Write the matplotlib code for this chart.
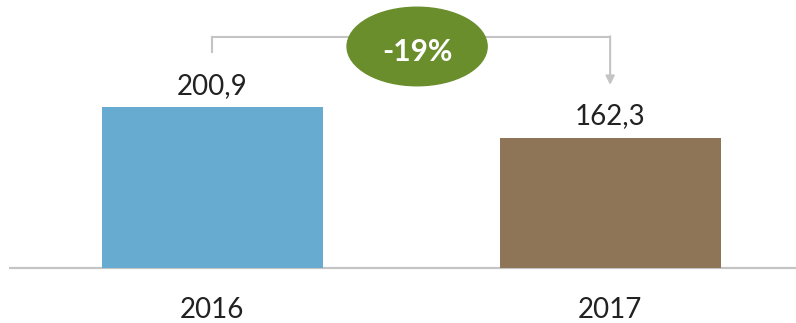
import matplotlib
matplotlib.use("Agg")
import matplotlib.pyplot as plt
from matplotlib.patches import Ellipse

years = ["2016", "2017"]
values = [200.9, 162.3]
value_labels = ["200,9", "162,3"]
change_label = "-19%"

bar_colors = ["#67abd0", "#8f7557"]
green = "#6a8e2c"
gray = "#c4c4c4"
text_color = "#222222"

plt.rcParams["font.family"] = ["Lato", "DejaVu Sans"]

fig = plt.figure(figsize=(7.96, 3.23), dpi=100)
ax = fig.add_axes([0, 0, 1, 1])
ax.set_xlim(-0.533, 1.467)
ax.set_ylim(-68, 335)
ax.axis("off")

x = list(range(len(years)))
ax.bar(x, values, width=0.555, color=bar_colors, zorder=2)

# baseline
ax.plot([-0.51, 1.467], [0, 0], color=gray, lw=1.6, zorder=1, solid_capstyle="butt")

for xi, v, lab, yr in zip(x, values, value_labels, years):
    ax.annotate(lab, (xi, v), xytext=(0, 10), textcoords="offset points",
                ha="center", va="baseline", fontsize=20, color=text_color)
    ax.text(xi, -62, yr, ha="center", va="baseline", fontsize=20, color=text_color)

# change bracket from first bar to second bar
y_top = 289
ax.plot([x[0], x[0]], [270, y_top], color=gray, lw=1.5, zorder=1)
ax.plot([x[0], x[1]], [y_top, y_top], color=gray, lw=1.5, zorder=1)
ax.annotate("", xy=(x[1], 229), xytext=(x[1], y_top + 0.8),
            arrowprops=dict(arrowstyle="-|>", color=gray, lw=1.5,
                            mutation_scale=13, shrinkA=0, shrinkB=0))

ell = Ellipse((0.515, 277), width=0.352, height=98, color=green, zorder=3)
ax.add_patch(ell)
ax.text(0.515, 270, change_label, ha="center", va="center", fontsize=21.5,
        color="white", fontweight="bold", zorder=4)

fig.savefig("out.png", dpi=100)
